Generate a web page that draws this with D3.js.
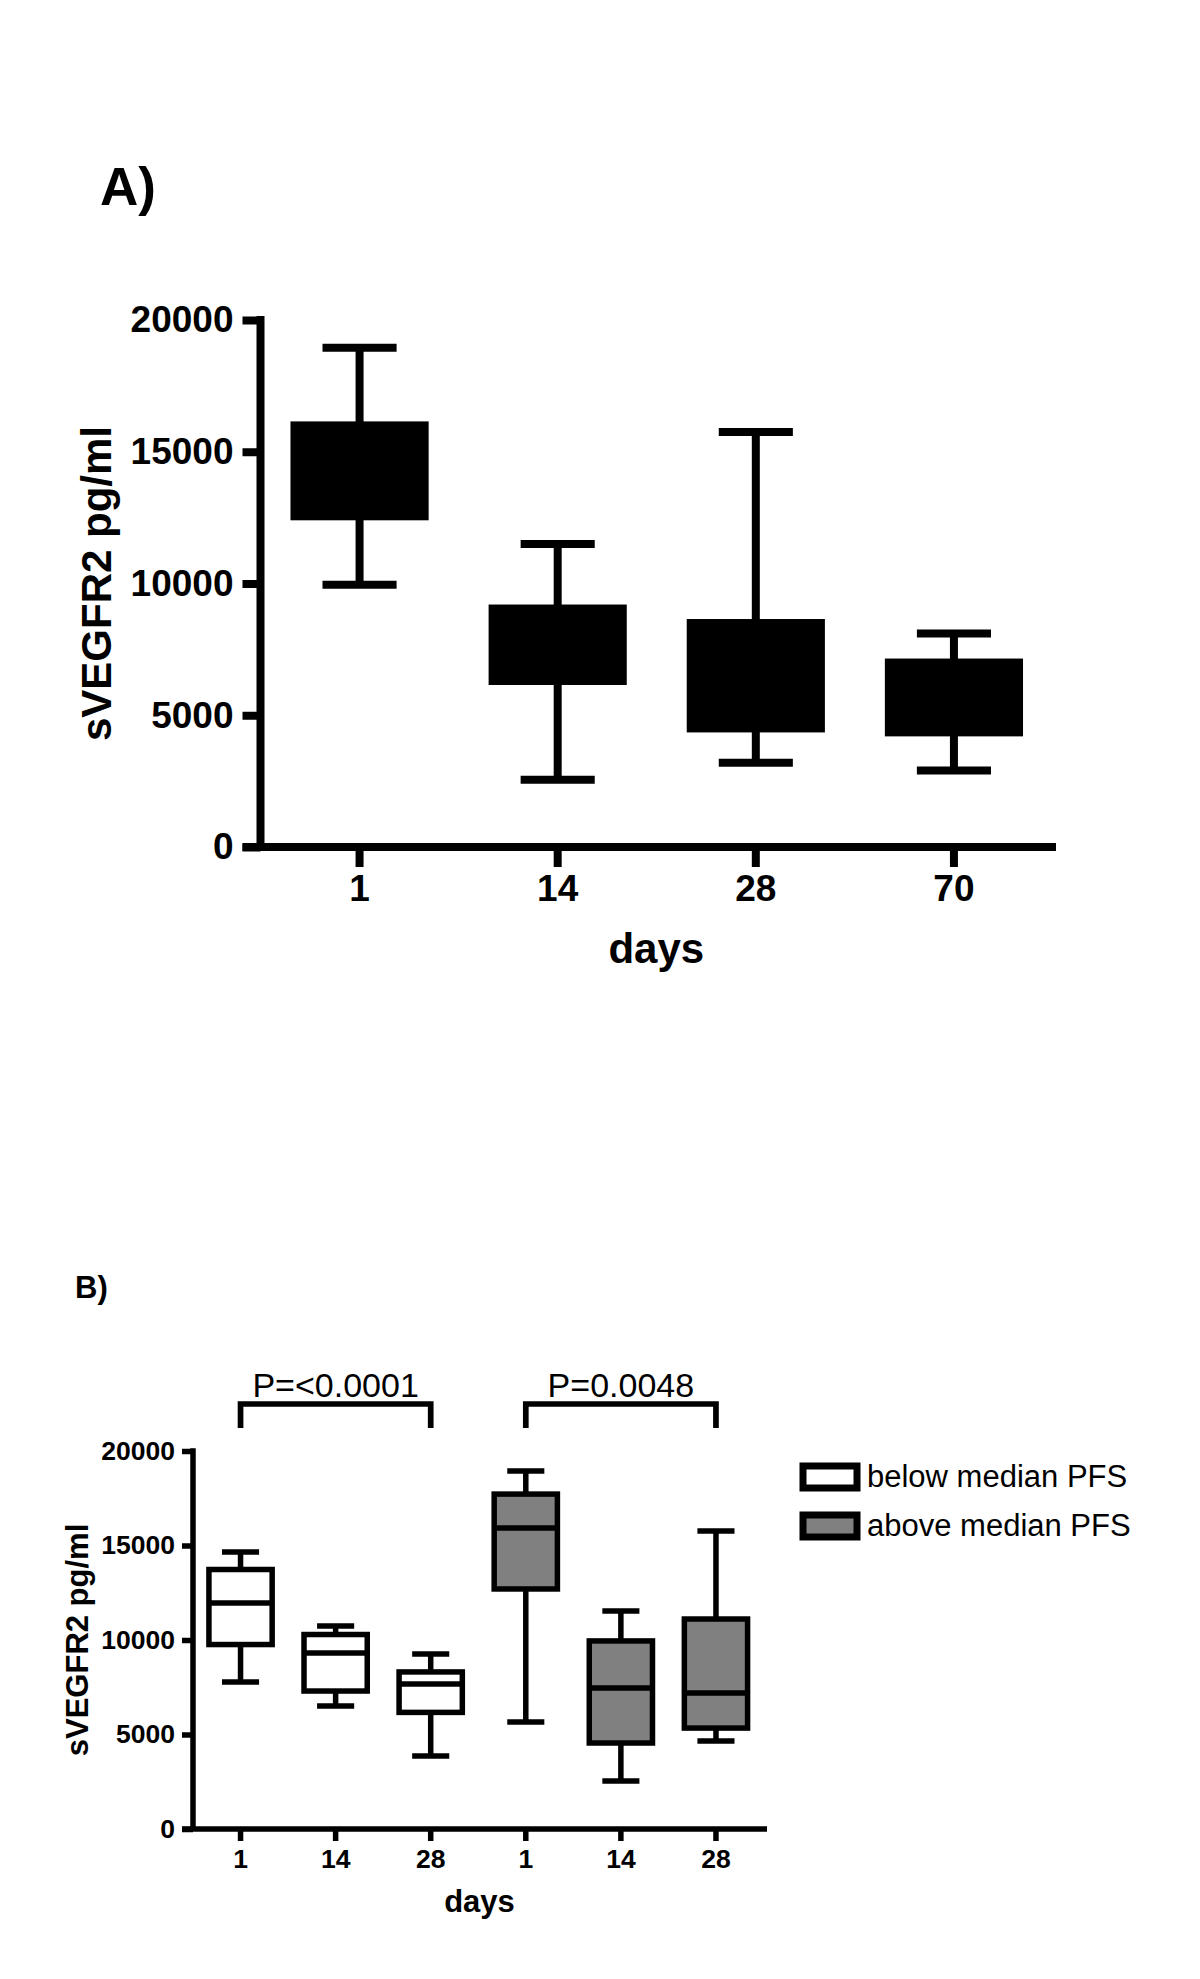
<!DOCTYPE html>
<html lang="en">
<head>
<meta charset="UTF-8">
<title>sVEGFR2 box plots</title>
<script src="https://cdn.jsdelivr.net/npm/d3@7"></script>
<style>
  body { margin: 0; background: #fff; }
  svg { display: block; font-family: "Liberation Sans", Arial, Helvetica, sans-serif; }
</style>
</head>
<body>
<svg width="1200" height="1979"></svg>
<script>
// ---- panel A: all patients ----
const daysA = ["1", "14", "28", "70"];
const minA = [9950, 2550, 3200, 2900];
const q1A  = [12550, 6300, 4500, 4350];
const q3A  = [16000, 9050, 8500, 7000];
const maxA = [18950, 11500, 15750, 8100];

// ---- panel B: split by median PFS ----
const groupsB = ["below", "below", "below", "above", "above", "above"];
const daysB = ["1", "14", "28", "1", "14", "28"];
const minB = [7780, 6510, 3860, 5660, 2540, 4660];
const q1B  = [9760, 7300, 6170, 12700, 4550, 5340];
const medB = [11960, 9310, 7670, 15930, 7460, 7200];
const q3B  = [13730, 10290, 8310, 17720, 9950, 11110];
const maxB = [14650, 10740, 9260, 18940, 11530, 15770];

const yTicks = [0, 5000, 10000, 15000, 20000];
const legendLabels = ["below median PFS", "above median PFS"];
const pLabels = ["P=<0.0001", "P=0.0048"];
const pPairs = [[0, 2], [3, 5]];

const fills = {below: "#ffffff", above: "#808080"};

const svg = d3.select("svg");

// draws one box plot panel
function boxPanel(opt) {
    const g = svg.append("g");
    const x = d3.scaleBand().domain(d3.range(opt.rows.length)).range(opt.xRange);
    const y = d3.scaleLinear().domain([0, 20000]).range(opt.yRange);
    const sw = opt.stroke;
    const bw = x.bandwidth() * opt.boxFrac;
    const cw = x.bandwidth() * opt.capFrac;

    // y axis
    const ya = g.append("g")
        .attr("transform", `translate(${opt.xRange[0]},0)`)
        .call(d3.axisLeft(y).tickValues(yTicks).tickFormat(d3.format("d"))
            .tickSize(opt.yTick).tickPadding(opt.yPad).tickSizeOuter(0));
    ya.select(".domain").remove();
    ya.selectAll("line").attr("stroke", "#000").attr("stroke-width", sw);
    ya.selectAll("text").attr("fill", "#000").attr("font-size", opt.tickFont)
        .attr("font-weight", "bold").attr("font-family", null);

    // x axis
    const xa = g.append("g")
        .attr("transform", `translate(0,${y(0)})`)
        .call(d3.axisBottom(x).tickFormat(i => opt.rows[i].day).tickSize(opt.xTick).tickPadding(opt.xPad).tickSizeOuter(0));
    xa.select(".domain").remove();
    xa.selectAll("line").attr("stroke", "#000").attr("stroke-width", sw);
    xa.selectAll("text").attr("fill", "#000").attr("font-size", opt.tickFont)
        .attr("font-weight", "bold").attr("font-family", null);

    // axis lines
    g.append("line")
        .attr("x1", opt.xRange[0]).attr("x2", opt.xRange[0])
        .attr("y1", y(20000) - sw / 2).attr("y2", y(0))
        .attr("stroke", "#000").attr("stroke-width", sw);
    g.append("line")
        .attr("x1", opt.xRange[0] - opt.yTick).attr("x2", opt.xRange[1] + opt.xExtra)
        .attr("y1", y(0)).attr("y2", y(0))
        .attr("stroke", "#000").attr("stroke-width", sw);

    // boxes
    const b = g.append("g").selectAll("g").data(opt.rows).join("g")
        .attr("transform", (d, i) => `translate(${x(i) + x.bandwidth() / 2},0)`)
        .attr("stroke", "#000").attr("stroke-width", sw);
    b.append("line").attr("y1", d => y(d.max)).attr("y2", d => y(d.q3));
    b.append("line").attr("y1", d => y(d.q1)).attr("y2", d => y(d.min));
    b.append("line").attr("x1", -cw / 2).attr("x2", cw / 2).attr("y1", d => y(d.max)).attr("y2", d => y(d.max));
    b.append("line").attr("x1", -cw / 2).attr("x2", cw / 2).attr("y1", d => y(d.min)).attr("y2", d => y(d.min));
    b.append("rect")
        .attr("x", -bw / 2).attr("width", bw)
        .attr("y", d => y(d.q3)).attr("height", d => y(d.q1) - y(d.q3))
        .attr("fill", d => d.fill);
    b.filter(d => d.med != null).append("line")
        .attr("x1", -bw / 2).attr("x2", bw / 2)
        .attr("y1", d => y(d.med)).attr("y2", d => y(d.med));

    // titles
    g.append("text")
        .attr("x", (opt.xRange[0] - opt.yTick + opt.xRange[1] + opt.xExtra) / 2 + opt.xTitleShift)
        .attr("y", opt.xTitleY)
        .attr("text-anchor", "middle").attr("font-weight", "bold").attr("font-size", opt.titleFont)
        .text("days");
    g.append("text")
        .attr("transform", `translate(${opt.yTitleX},${(y(0) + y(20000)) / 2}) rotate(-90)`)
        .attr("text-anchor", "middle").attr("font-weight", "bold").attr("font-size", opt.titleFont)
        .text("sVEGFR2 pg/ml");

    return {x, y, g};
}

// panel A
const rowsA = daysA.map((d, i) => ({day: d, min: minA[i], q1: q1A[i], q3: q3A[i], max: maxA[i], med: null, fill: "#000"}));
boxPanel({
    rows: rowsA, xRange: [260.5, 1053], yRange: [847, 320], xExtra: 3,
    stroke: 8, boxFrac: 0.657, capFrac: 0.374,
    yTick: 18, yPad: 9, xTick: 20, xPad: 8, tickFont: 37,
    titleFont: 42, xTitleY: 963, yTitleX: 111, xTitleShift: 7
});
svg.append("text").attr("x", 100).attr("y", 205)
    .attr("font-weight", "bold").attr("font-size", 53).text("A)");

// panel B
const rowsB = daysB.map((d, i) => ({day: d, min: minB[i], q1: q1B[i], med: medB[i], q3: q3B[i], max: maxB[i], fill: fills[groupsB[i]]}));
const pb = boxPanel({
    rows: rowsB, xRange: [193, 763.5], yRange: [1829, 1451], xExtra: 3.5,
    stroke: 5.5, boxFrac: 0.665, capFrac: 0.39,
    yTick: 11, yPad: 7, xTick: 12, xPad: 8.5, tickFont: 26.5,
    titleFont: 31, xTitleY: 1912, yTitleX: 88, xTitleShift: 5
});
svg.append("text").attr("x", 75).attr("y", 1298)
    .attr("font-weight", "bold").attr("font-size", 31).text("B)");

// significance brackets
const xb = pb.x;
const cx = i => xb(i) + xb.bandwidth() / 2;
pPairs.forEach((p, k) => {
    const x0 = cx(p[0]), x1 = cx(p[1]);
    svg.append("path")
        .attr("d", `M${x0},1428V1404H${x1}V1428`)
        .attr("fill", "none").attr("stroke", "#000").attr("stroke-width", 5.7);
    svg.append("text")
        .attr("x", (x0 + x1) / 2).attr("y", 1397)
        .attr("text-anchor", "middle").attr("font-size", 34)
        .text(pLabels[k]);
});

// legend
const leg = svg.append("g").selectAll("g").data(legendLabels).join("g")
    .attr("transform", (d, i) => `translate(803,${1466 + i * 49})`);
leg.append("rect")
    .attr("width", 54).attr("height", 22)
    .attr("fill", (d, i) => i === 0 ? fills.below : fills.above)
    .attr("stroke", "#000").attr("stroke-width", 7);
leg.append("text")
    .attr("x", 64).attr("y", 21)
    .attr("font-size", 31)
    .text(d => d);
</script>
</body>
</html>
